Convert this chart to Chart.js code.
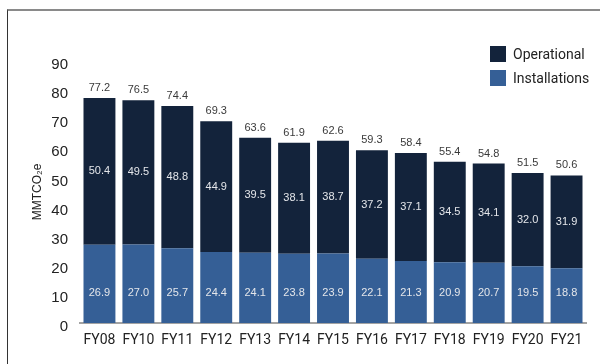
<!DOCTYPE html>
<html>
<head>
<meta charset="utf-8">
<script src="https://cdn.jsdelivr.net/npm/chart.js@4"></script>
<style>
  html, body { margin: 0; padding: 0; background: #fff; }
  #wrap { position: relative; width: 600px; height: 364px; }
  #frame { position: absolute; left: 7px; top: 9px; right: 0; bottom: 0;
           border-top: 2px solid #8a8a8a; border-left: 1px solid #333; }
  #legend { position: absolute; left: 490px; top: 46px;
            font: 14px Roboto, 'Liberation Sans', sans-serif; color: #222; }
  #legend div { display: flex; align-items: center; height: 16px; margin-bottom: 8px; }
  #legend span.box { width: 16px; height: 16px; margin-right: 7px; }
</style>
</head>
<body>
<div id="wrap">
  <div id="frame"></div>
  <canvas id="chart" width="600" height="364"></canvas>
  <div id="legend">
    <div><span class="box" style="background:#13233b"></span>Operational</div>
    <div><span class="box" style="background:#355f96"></span>Installations</div>
  </div>
</div>
<script>
const years = ['FY08', 'FY10', 'FY11', 'FY12', 'FY13', 'FY14', 'FY15', 'FY16', 'FY17', 'FY18', 'FY19', 'FY20', 'FY21'];
const installations = [26.9, 27.0, 25.7, 24.4, 24.1, 23.8, 23.9, 22.1, 21.3, 20.9, 20.7, 19.5, 18.8];
const operational = [50.4, 49.5, 48.8, 44.9, 39.5, 38.1, 38.7, 37.2, 37.1, 34.5, 34.1, 32.0, 31.9];
const totals = [77.2, 76.5, 74.4, 69.3, 63.6, 61.9, 62.6, 59.3, 58.4, 55.4, 54.8, 51.5, 50.6];

// draws the values inside the segments and the totals on top
const barLabels = {
    id: 'barLabels',
    afterDatasetsDraw(chart) {
        const ctx = chart.ctx;
        const inst = chart.getDatasetMeta(0).data;
        const oper = chart.getDatasetMeta(1).data;
        ctx.save();
        ctx.font = '11px "Liberation Sans", Arial, sans-serif';
        ctx.textAlign = 'center';
        ctx.textBaseline = 'middle';
        inst.forEach((bar, i) => {
            ctx.fillStyle = '#e4e6ea';
            ctx.fillText(installations[i].toFixed(1), bar.x, bar.base - 30);
            const top = oper[i];
            ctx.fillText(operational[i].toFixed(1), top.x, (top.y + top.base) / 2);
            ctx.fillStyle = '#3a3a3a';
            ctx.fillText(totals[i].toFixed(1), top.x, top.y - 10);
        });
        ctx.restore();
    }
};

new Chart(document.getElementById('chart').getContext('2d'), {
    type: 'bar',
    data: {
        labels: years,
        datasets: [
            { label: 'Installations', data: installations, backgroundColor: '#355f96' },
            { label: 'Operational', data: operational, backgroundColor: '#13233b' },
        ],
    },
    options: {
        responsive: false,
        animation: false,
        layout: { padding: { top: 61, right: 14, left: 0, bottom: 0 } },
        datasets: { bar: { barPercentage: 0.82, categoryPercentage: 1 } },
        plugins: { legend: { display: false }, tooltip: { enabled: false } },
        scales: {
            x: {
                stacked: true,
                grid: { display: false, drawTicks: false },
                border: { display: true, color: '#a3a3a3', width: 2 },
                ticks: {
                    color: '#222',
                    padding: 9,
                    autoSkip: false,
                    maxRotation: 0,
                    minRotation: 0,
                    font: { family: "Roboto, 'Liberation Sans', sans-serif", size: 14 },
                },
                afterFit: s => { s.height = 41; },
            },
            y: {
                stacked: true,
                min: 0,
                max: 90,
                grid: { display: false, drawTicks: false },
                border: { display: false },
                ticks: {
                    stepSize: 10,
                    color: '#222',
                    padding: 12,
                    labelOffset: 4,
                    font: { family: "'Liberation Sans', Arial, sans-serif", size: 15 },
                },
                title: {
                    display: true,
                    text: 'MMTCO₂e',
                    color: '#222',
                    padding: { top: 30, bottom: 0 },
                    font: { family: "'Liberation Sans', Arial, sans-serif", size: 12 },
                },
                afterFit: s => { s.width = 80; },
            },
        },
    },
    plugins: [barLabels],
});
</script>
</body>
</html>
